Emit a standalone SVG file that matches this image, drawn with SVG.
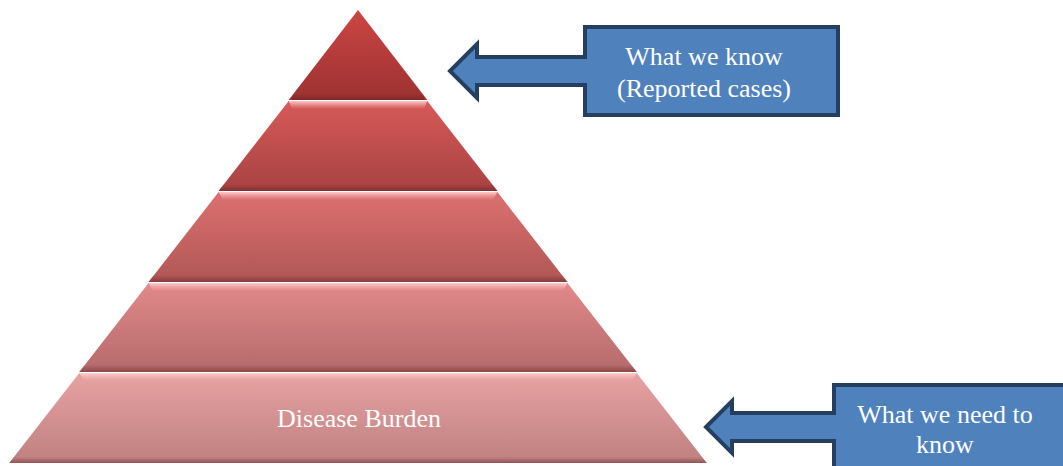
<svg xmlns="http://www.w3.org/2000/svg" width="1063" height="466" viewBox="0 0 1063 466">
<style>
.callout{fill:#4f81bd;stroke:#243f60;stroke-width:4;stroke-linejoin:miter}
.t{font-family:"Liberation Serif","Times New Roman",serif;font-size:26px;fill:#ffffff;text-anchor:middle}
.hl{fill:url(#hl)}
.sh{fill:url(#sh)}
</style>
<defs>
<linearGradient id="g1" x1="0" y1="0" x2="0" y2="1"><stop offset="0" stop-color="#cc4644"/><stop offset="1" stop-color="#9c3131"/></linearGradient>
<linearGradient id="g2" x1="0" y1="0" x2="0" y2="1"><stop offset="0" stop-color="#d65a58"/><stop offset="1" stop-color="#a84242"/></linearGradient>
<linearGradient id="g3" x1="0" y1="0" x2="0" y2="1"><stop offset="0" stop-color="#dc716f"/><stop offset="1" stop-color="#b05656"/></linearGradient>
<linearGradient id="g4" x1="0" y1="0" x2="0" y2="1"><stop offset="0" stop-color="#e2898a"/><stop offset="1" stop-color="#b46a6a"/></linearGradient>
<linearGradient id="g5" x1="0" y1="0" x2="0" y2="1"><stop offset="0" stop-color="#e8a2a2"/><stop offset="1" stop-color="#bf8080"/></linearGradient>
<linearGradient id="hl" x1="0" y1="0" x2="0" y2="1"><stop offset="0" stop-color="#ffd6d6" stop-opacity="0.9"/><stop offset="1" stop-color="#ffb0b0" stop-opacity="0"/></linearGradient>
<linearGradient id="sh" x1="0" y1="0" x2="0" y2="1"><stop offset="0" stop-color="#5a1c1c" stop-opacity="0"/><stop offset="1" stop-color="#5a1c1c" stop-opacity="0.45"/></linearGradient>
</defs>

<g id="layer1">
<polygon points="358,10 427.3,100 288.7,100" fill="url(#g1)"/>
<polygon points="358,10 361,14 425,98 427.3,100" fill="#e06060" fill-opacity="0.35"/>
<rect x="292" y="94" width="132" height="6" class="sh"/>
</g>

<g id="layer2">
<polygon points="288.7,101 427.3,101 497.4,191 218.6,191" fill="url(#g2)"/>
<polygon points="288.7,101 427.3,101 424,109 292,109" class="hl"/>
<polygon points="223,184 493,184 497.4,191 218.6,191" class="sh"/>
</g>

<g id="layer3">
<polygon points="218.6,192 497.4,192 567.4,282 148.6,282" fill="url(#g3)"/>
<polygon points="218.6,192 497.4,192 493,200 223,200" class="hl"/>
<polygon points="153,275 563,275 567.4,282 148.6,282" class="sh"/>
</g>

<g id="layer4">
<polygon points="148.6,283 567.4,283 636.7,372 79.3,372" fill="url(#g4)"/>
<polygon points="148.6,283 567.4,283 563,291 153,291" class="hl"/>
<polygon points="84,365 632,365 636.7,372 79.3,372" class="sh"/>
</g>

<g id="layer5">
<polygon points="79.3,373 636.7,373 706.8,463 9.2,463" fill="url(#g5)"/>
<polygon points="79.3,373 636.7,373 632,381 84,381" class="hl"/>
<polygon points="14,457 702,457 706.8,463 9.2,463" class="sh"/>
<text class="t" x="359" y="427">Disease Burden</text>
</g>

<g id="callout-known">
<path class="callout" d="M585,27 H838 V115 H585 V85 H477 V98 L450,71 L477,44 V57 H585 Z"/>
<text class="t" x="704" y="65">What we know</text>
<text class="t" x="704" y="97">(Reported cases)</text>
</g>

<g id="callout-need">
<path class="callout" d="M834,385 H1090 V490 H834 V441 H732 V453 L706,427 L732,401 V413 H834 Z"/>
<text class="t" x="945" y="423">What we need to</text>
<text class="t" x="945" y="453">know</text>
</g>

<g id="connectors"></g>
</svg>
